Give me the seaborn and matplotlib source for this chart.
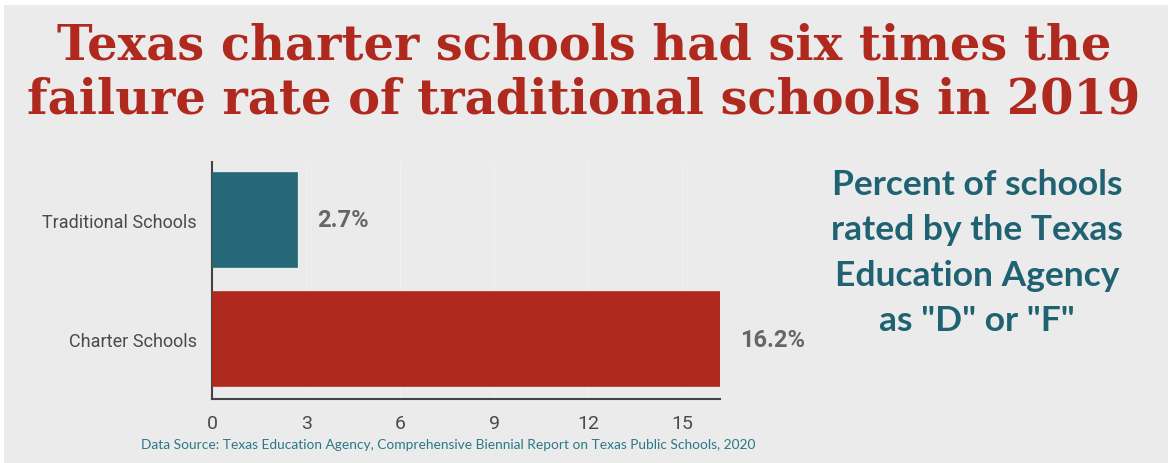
import matplotlib
matplotlib.use("Agg")
import matplotlib.pyplot as plt
import seaborn as sns
import pandas as pd
from matplotlib.patches import Rectangle
from matplotlib import font_manager

categories = ["Traditional Schools", "Charter Schools"]
values = [2.7, 16.2]
bar_colors = ["#266878", "#b0291f"]
value_labels = ["2.7%", "16.2%"]
xticks = [0, 3, 6, 9, 12, 15]
title = "Texas charter schools had six times the\nfailure rate of traditional schools in 2019"
side_text = 'Percent of schools\nrated by the Texas\nEducation Agency\nas "D" or "F"'
source = "Data Source: Texas Education Agency, Comprehensive Biennial Report on Texas Public Schools, 2020"

sns.set_theme(style="white")
names = {f.name for f in font_manager.fontManager.ttflist}
narrow = "Liberation Sans Narrow" if "Liberation Sans Narrow" in names else "Roboto"
plt.rcParams["font.family"] = [narrow, "DejaVu Sans"]

W, H = 1172, 464
fig = plt.figure(figsize=(W / 100, H / 100), dpi=100, facecolor="white")
bg = "#ebebeb"
fig.patches.append(Rectangle((4 / W, 0), (W - 8) / W, (H - 6) / H,
                             transform=fig.transFigure, facecolor=bg,
                             edgecolor="none", zorder=-10))

ax = fig.add_axes([212 / W, (H - 400) / H, (720 - 212) / W, (400 - 163) / H])
ax.set_facecolor(bg)

df = pd.DataFrame({"category": categories, "value": values})
sns.barplot(data=df, x="value", y="category", hue="category",
            palette=bar_colors, saturation=1, orient="h", width=0.79,
            legend=False, ax=ax, zorder=3)
for p, c in zip(ax.patches, bar_colors):
    p.set_edgecolor(c)
    p.set_linewidth(1.2)

ax.set_xlim(0, 16.2)
ax.set_ylim(1.504, -0.487)
ax.set_xticks(xticks)
ax.set_xticklabels([str(t) for t in xticks])
ax.xaxis.grid(True, color="#f0f0f0", linewidth=1.0, zorder=0)
ax.set_xlabel("")
ax.set_ylabel("")
for s in ["top", "right"]:
    ax.spines[s].set_visible(False)
for s in ["left", "bottom"]:
    ax.spines[s].set_color("#444444")
    ax.spines[s].set_linewidth(1.5)
ax.tick_params(axis="both", which="both", length=9, width=1.5, color="#444444",
               labelcolor="#4a4a4a", labelsize=13, direction="out")
ax.tick_params(axis="y", length=7, pad=4)
ax.tick_params(axis="x", pad=2, labelsize=14)

for i, (v, lab) in enumerate(zip(values, value_labels)):
    ax.text(v + 0.65, i, lab, va="center", ha="left", fontsize=17,
            color="#666666", fontweight="bold", family=["Roboto", "DejaVu Sans"])

fig.text(584 / W, 1 - 73 / H, title, ha="center", va="center",
         fontsize=34.5, fontweight="heavy", color="#b0291f",
         family=["DejaVu Serif"], linespacing=1.2)

fig.text(977 / W, 1 - 253 / H, side_text, ha="center", va="center",
         fontsize=25.5, color="#1f6272", fontweight="bold",
         family=["Lato", "DejaVu Sans"], linespacing=1.52)

fig.text(448 / W, 1 - 445 / H, source, ha="center", va="center",
         fontsize=9.9, color="#2a7888", family=["Lato", "DejaVu Sans"])

fig.savefig("out.png", dpi=100, facecolor="white")
